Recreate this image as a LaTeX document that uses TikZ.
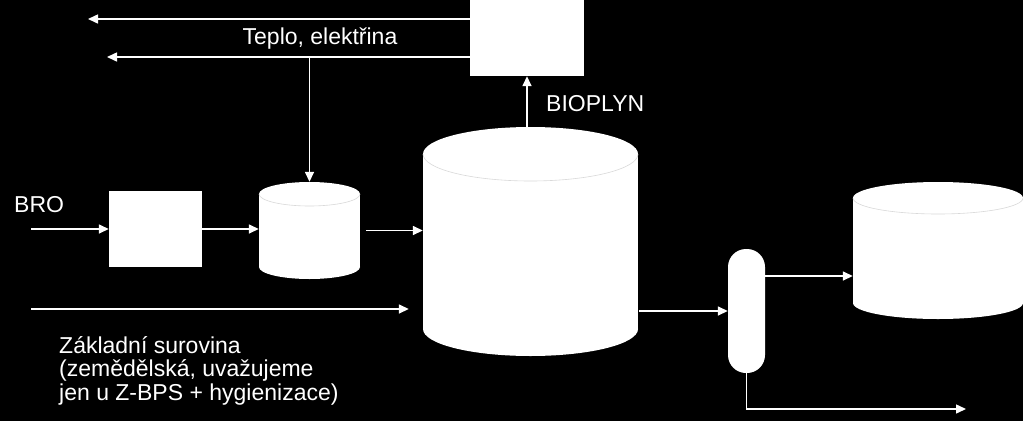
\documentclass[tikz,border=0pt]{standalone}
\usepackage{fontspec}
\setmainfont{Liberation Sans}
\usetikzlibrary{arrows.meta}
\newcommand\mycyl[6]{% name, cx, ytop, ybot, rx, ry
  \fill[white] (#2-#5,#3) rectangle (#2+#5,#4);
  \fill[white] (#2,#3) ellipse[x radius=#5, y radius=#6];
  \fill[white] (#2,#4) ellipse[x radius=#5, y radius=#6];
  \draw[black!15, line width=0.6pt] (#2+#5,#3) arc[start angle=0, end angle=180, x radius=#5, y radius=#6];
  \node[inner sep=0pt, minimum width={(2*#5)*1pt}, minimum height={(#4-#3+2*#6)*1pt}] (#1) at (#2,{(#3+#4)/2}) {};
}
\begin{document}
\begin{tikzpicture}[x=1pt,y=-1pt,
  conn/.style={draw=white, line width=1.5pt, -{Triangle[length=10pt,width=9pt]}},
  box/.style={fill=white, draw=none, inner sep=0pt},
  lbl/.style={text=white, font=\fontsize{23}{23.5}\selectfont, inner sep=0pt},
]
\fill[black] (0,0) rectangle (1023,421);
\useasboundingbox (0,0) rectangle (1023,421);

% blocks
\node[box, minimum width=114pt, minimum height=76pt] (gen) at (527,38) {};
\node[box, minimum width=93pt, minimum height=76pt] (pre) at (155.5,229) {};
\mycyl{scyl}{309.5}{194}{267}{50.5}{12}
\mycyl{bcyl}{530.5}{154}{329}{107.5}{27}
\mycyl{rcyl}{938}{198}{303}{85}{16}
\node[box, rounded corners=18pt, minimum width=37pt, minimum height=124pt] (sep) at (746.5,311) {};

% free ends
\coordinate (out1) at (88,19);
\coordinate (out2) at (107,57);
\coordinate (broin) at (31,229);
\coordinate (rawin) at (31,309);
\coordinate (digout) at (966,409);

% connectors
\draw[conn] (gen.west |- out1) -- (out1);
\draw[conn] (gen.west |- out2) -- (out2);
\draw[conn] (scyl.north |- out2) -- (scyl.north);
\draw[conn] (broin) -- (pre.west);
\draw[conn] (pre.east) -- (pre.east -| scyl.west);
\draw[conn] ([xshift=6pt]scyl.east) -- (scyl.east -| bcyl.west);
\draw[conn] (rawin) -- ([xshift=-14pt]rawin -| bcyl.west);
\draw[conn] (gen.south |- bcyl.north) -- (gen.south);
\draw[conn] ([xshift=1pt]sep.west -| bcyl.east) -- (sep.west);
\draw[conn] ([yshift=35pt]sep.east) -- ([yshift=35pt]sep.east -| rcyl.west);
\draw[conn] (sep.south) |- (digout);

% labels
\node[lbl] (teplo) at (320,39) {Teplo, elektřina};
\node[lbl, anchor=west] (bio) at (546,104) {BIOPLYN};
\node[lbl, anchor=west] (bro) at (14,205) {BRO};
\node[lbl, anchor=base west, align=left] (raw) at (59,400) {Základní surovina\\(zemědělská, uvažujeme\\jen u Z-BPS + hygienizace)};
\end{tikzpicture}
\end{document}
